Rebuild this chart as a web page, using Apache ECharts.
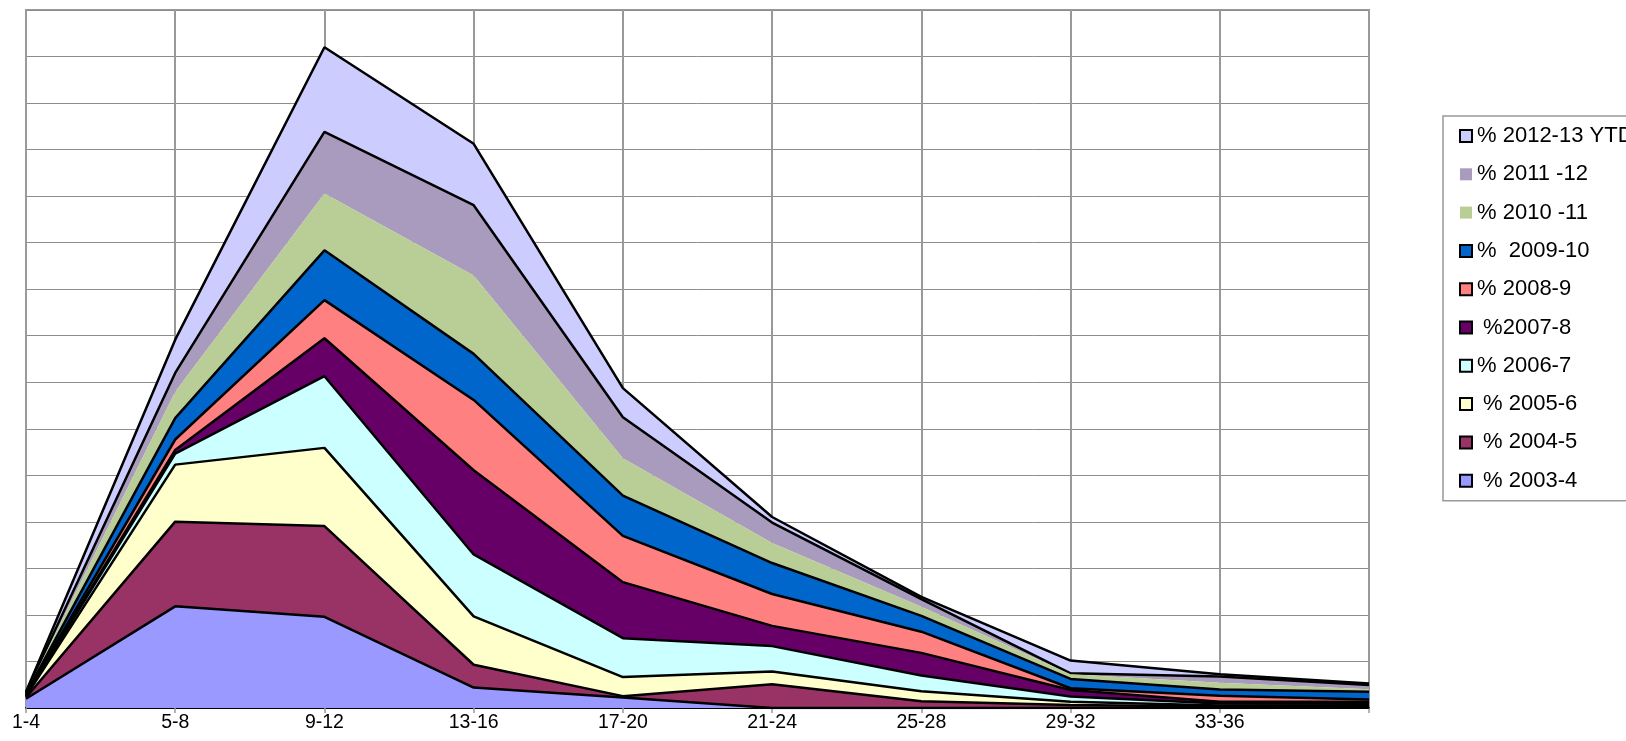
<!DOCTYPE html>
<html>
<head>
<meta charset="utf-8">
<script src="https://cdn.jsdelivr.net/npm/echarts@6/dist/echarts.min.js"></script>
<style>
html,body{margin:0;padding:0;background:#fff;}
#chart{width:1626px;height:741px;}
</style>
</head>
<body>
<div id="chart"></div>
<script>
// Categories (last category has no label in the original)
const categories = ['1-4','5-8','9-12','13-16','17-20','21-24','25-28','29-32','33-36',''];

// Series names (legend text as in the original), bottom of the stack first
const seriesNames = [' % 2003-4',' % 2004-5',' % 2005-6','% 2006-7',' %2007-8','% 2008-9','%  2009-10','% 2010 -11','% 2011 -12','% 2012-13 YTD'];

// Series values (stacked)
const s2003 = [4.0, 43.7, 39.2, 8.8, 4.5, 0.0, 0.0, 0.0, 0.0, 0.2];
const s2004 = [0.5, 36.4, 39.0, 9.8, 0.6, 10.2, 2.9, 1.3, 0.6, 0.5];
const s2005 = [0.5, 24.5, 33.6, 20.8, 8.2, 5.5, 4.3, 1.4, 0.5, 0.5];
const s2006 = [0.3, 4.7, 30.8, 26.6, 16.7, 10.9, 6.8, 2.2, 0.8, 0.7];
const s2007 = [0.3, 1.6, 16.3, 36.2, 24.1, 8.7, 9.7, 2.8, 0.8, 0.8];
const s2008 = [0.3, 4.5, 16.4, 30.2, 19.9, 13.7, 9.1, 0.8, 2.6, 1.0];
const s2009 = [0.3, 9.2, 21.4, 19.8, 17.3, 13.3, 6.8, 4.0, 2.6, 3.3];
const s2010 = [0.3, 11.3, 24.4, 33.7, 16.0, 8.6, 3.9, 2.0, 3.0, 1.1];
const s2011 = [0.3, 8.1, 26.5, 30.2, 17.7, 8.8, 3.3, 0.4, 2.6, 1.8];
const s2012 = [0.2, 14.3, 36.4, 26.4, 12.5, 2.4, 1.0, 5.5, 1.0, 0.6];

const seriesData = [s2003, s2004, s2005, s2006, s2007, s2008, s2009, s2010, s2011, s2012];
const colors = ['#9999FF','#993366','#FFFFCC','#CCFFFF','#660066','#FF8080','#0066CC','#B9CD96','#A99BBD','#CCCCFF'];
const bordered = [true,true,true,true,true,true,true,false,true,true];
const legendBordered = [true,true,true,true,true,true,true,false,false,true];

const series = seriesData.map((d, i) => ({
  name: seriesNames[i],
  type: 'line',
  stack: 'total',
  data: d,
  z: 30 - i,
  showSymbol: false,
  symbol: 'none',
  smooth: false,
  color: colors[i],
  lineStyle: { color: '#000', width: bordered[i] ? 2.5 : 0, opacity: bordered[i] ? 1 : 0 },
  areaStyle: { color: colors[i], opacity: 1 },
  itemStyle: { color: colors[i] },
  emphasis: { disabled: true },
  animation: false
}));

const legendData = seriesNames.slice().reverse().map((n) => {
  const i = seriesNames.indexOf(n);
  return {
    name: n,
    icon: 'rect',
    itemStyle: legendBordered[i]
      ? { color: colors[i], borderColor: '#000', borderWidth: 2 }
      : { color: colors[i], borderWidth: 0 }
  };
});

const chart = echarts.init(document.getElementById('chart'), null, { renderer: 'canvas' });
chart.setOption({
  animation: false,
  backgroundColor: '#fff',
  grid: {
    left: 26, right: 257, top: 10, bottom: 33,
    show: true, borderColor: '#999', borderWidth: 2, backgroundColor: 'transparent'
  },
  legend: {
    orient: 'vertical',
    left: 1443,
    top: 116,
    data: legendData,
    itemWidth: 12,
    itemHeight: 12,
    itemGap: 12.3,
    padding: [7, 80, 7, 16],
    backgroundColor: '#fff',
    borderColor: '#999',
    borderWidth: 1.5,
    borderRadius: 0,
    selectedMode: false,
    textStyle: { fontFamily: 'Liberation Sans, Arial, sans-serif', fontSize: 22, color: '#000', lineHeight: 26 }
  },
  xAxis: {
    type: 'category',
    data: categories,
    boundaryGap: false,
    axisLine: { show: true, lineStyle: { color: '#000', width: 2 } },
    axisTick: { show: true, length: 5, lineStyle: { color: '#999', width: 1.5 } },
    axisLabel: { color: '#000', fontFamily: 'Liberation Sans, Arial, sans-serif', fontSize: 19.5, margin: 5, interval: 0 },
    splitLine: { show: true, lineStyle: { color: '#999', width: 2 } }
  },
  yAxis: {
    type: 'value',
    min: 0, max: 300, interval: 20,
    axisLine: { show: true, lineStyle: { color: '#999', width: 2 } },
    axisTick: { show: false },
    axisLabel: { show: false },
    splitLine: { show: true, lineStyle: { color: '#8c8c8c', width: 1 } }
  },
  series: series
});
</script>
</body>
</html>
